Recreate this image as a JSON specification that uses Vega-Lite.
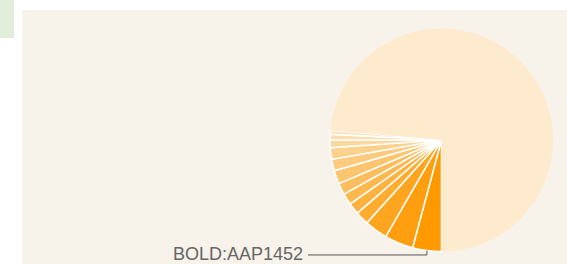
{
  "$schema": "https://vega.github.io/schema/vega-lite/v6.json",
  "padding": 0,
  "background": "white",
  "spacing": 8,
  "config": {"view": {"stroke": null}},
  "hconcat": [
    {
      "width": 14,
      "height": 38,
      "view": {"fill": "#e1ecd9", "stroke": null},
      "data": {"values": []},
      "mark": "rule",
      "encoding": {}
    },
    {
      "spacing": 0,
      "vconcat": [
        {
          "width": 545,
          "height": 10,
          "data": {"values": []},
          "mark": "rule",
          "encoding": {}
        },
        {
          "width": 545,
          "height": 254,
          "view": {"fill": "#f7f3eb", "stroke": null},
          "data": {
            "values": [
              {"rank": 1, "name": "BOLD:AAP1452", "count": 15},
              {"rank": 2, "name": "BIN 2", "count": 15},
              {"rank": 3, "name": "BIN 3", "count": 12},
              {"rank": 4, "name": "BIN 4", "count": 7},
              {"rank": 5, "name": "BIN 5", "count": 6},
              {"rank": 6, "name": "BIN 6", "count": 6},
              {"rank": 7, "name": "BIN 7", "count": 6},
              {"rank": 8, "name": "BIN 8", "count": 7},
              {"rank": 9, "name": "BIN 9", "count": 6},
              {"rank": 10, "name": "BIN 10", "count": 6},
              {"rank": 11, "name": "BIN 11", "count": 4},
              {"rank": 12, "name": "BIN 12", "count": 3},
              {"rank": 13, "name": "BIN 13", "count": 2},
              {"rank": 14, "name": "Other", "count": 265}
            ]
          },
          "layer": [
            {
              "mark": {"type": "arc", "outerRadius": 111.5, "stroke": "white"},
              "encoding": {
                "theta": {"field": "count", "type": "quantitative", "stack": true, "scale": {"range": [3.14159265, 9.42477796]}},
                "order": {"field": "rank", "type": "quantitative"},
                "color": {"field": "rank", "type": "quantitative", "legend": null, "scale": {"domain": [1, 14], "range": ["#ff9900", "#feeacc"], "interpolate": "rgb"}},
                "strokeWidth": {"condition": {"test": "datum.rank == 14", "value": 0}, "value": 1.5},
                "x": {"datum": 0, "type": "quantitative", "axis": null, "scale": {"domain": [-3.762, 1.126], "nice": false, "zero": false}},
                "y": {"datum": 0, "type": "quantitative", "axis": null, "scale": {"domain": [-1.112, 1.166], "nice": false, "zero": false}}
              }
            },
            {
              "transform": [
                {"joinaggregate": [{"op": "sum", "field": "count", "as": "total"}]},
                {"stack": "count", "groupby": [], "sort": [{"field": "rank", "order": "ascending"}], "as": ["a0", "a1"]},
                {"filter": "datum.rank == 1"},
                {"calculate": "PI + PI * (datum.a0 + datum.a1) / datum.total", "as": "mid"},
                {"calculate": "sin(datum.mid)", "as": "mx"},
                {"calculate": "cos(datum.mid)", "as": "my"}
              ],
              "layer": [
                {
                  "mark": {"type": "rule", "color": "#555555", "strokeWidth": 1},
                  "encoding": {
                    "x": {"field": "mx", "type": "quantitative"},
                    "y": {"field": "my", "type": "quantitative"},
                    "y2": {"datum": -1.031}
                  }
                },
                {
                  "mark": {"type": "rule", "color": "#555555", "strokeWidth": 1},
                  "encoding": {
                    "x": {"field": "mx", "type": "quantitative"},
                    "x2": {"datum": -1.197},
                    "y": {"datum": -1.031, "type": "quantitative"}
                  }
                },
                {
                  "mark": {"type": "text", "align": "right", "baseline": "middle", "font": "Liberation Sans", "fontSize": 18, "color": "#666666"},
                  "encoding": {
                    "x": {"datum": -1.242, "type": "quantitative"},
                    "y": {"datum": -1.031, "type": "quantitative"},
                    "text": {"field": "name", "type": "nominal"}
                  }
                }
              ]
            }
          ]
        }
      ]
    }
  ]
}
